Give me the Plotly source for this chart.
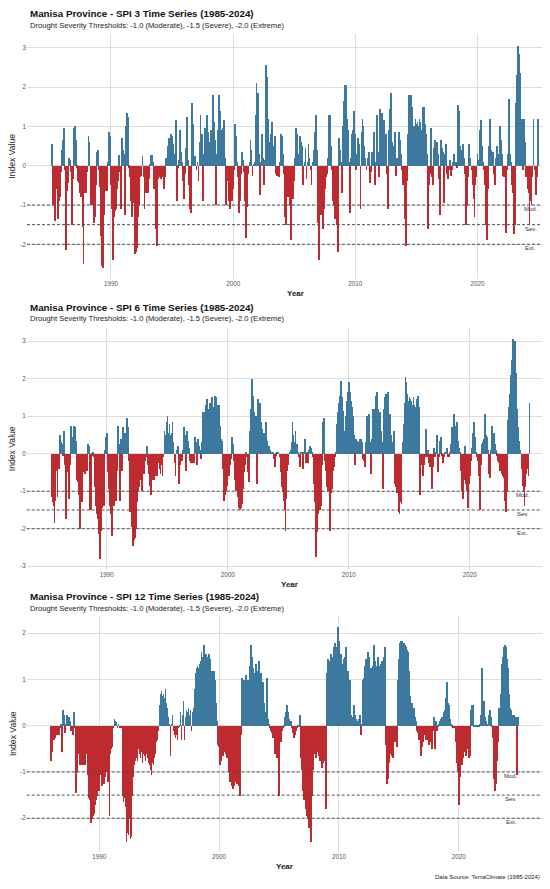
import plotly.graph_objects as go

# ---------------- data (monthly SPI values, Jan..Dec per year) ----------------
years = list(range(1985, 2025))
tick_years = [1990, 2000, 2010, 2020]
thresholds = [-1.0, -1.5, -2.0]
threshold_labels = ["Mod.", "Sev.", "Ext."]

spi3 = [
    [None, None, 0.55, -1.0, -0.95, -1.4, -0.55, -0.6, -1.35, -0.9, -0.8, -0.15],
    [0.4, 0.65, 0.95, -0.1, -2.15, -0.65, -0.45, 0.2, 0.15, -0.15, -1.5, -0.35],
    [0.95, 1.0, 0.65, -0.05, -0.4, -0.45, -0.7, -0.8, -1.55, -2.5, -0.7, -0.7],
    [-0.7, -0.15, 0.75, 0.6, -1.0, -0.4, -1.0, -1.45, -1.3, -0.5, 0.35, 0.4],
    [-0.1, -0.55, -1.8, -2.55, -2.6, -1.25, -0.3, -0.65, -0.65, 0.1, 0.85, 0.75],
    [-0.5, -1.1, -2.4, -1.3, -1.15, -1.1, -0.6, -0.4, 0.28, -0.15, -1.1, 0.7],
    [0.4, 0.3, -1.25, 1.0, 1.35, 1.25, -0.05, -0.3, -0.9, -1.3, -0.9, -0.95],
    [-2.25, -2.2, -2.1, -1.3, -1.0, -0.3, -0.25, 0.25, -0.3, -1.1, -0.7, -0.7],
    [-0.7, -0.35, 0.02, 0.27, 0.27, 0.1, -0.6, -0.5, -1.6, -2.05, -0.35, -0.3],
    [-0.3, -0.35, -0.3, -0.25, -0.6, -0.3, 0.2, 0.05, 0.5, 0.7, 0.7, 0.8],
    [0.75, 0.55, 0.3, 0.1, 1.15, -0.9, -0.05, 0.15, 0.9, 0.35, 0.1, -0.4],
    [-0.85, -0.2, 0.45, 1.25, 0.15, -0.5, -1.1, -1.2, 1.6, 1.05, 0.25, 0.25],
    [-0.1, 0.1, -0.4, 0.6, 1.3, 0.8, -0.9, 0.3, 0.95, 0.6, 1.3, 0.85],
    [0.6, 0.6, 0.9, 0.6, 1.8, 1.1, 0.65, -1.0, 0.3, 0.9, 1.8, 1.4],
    [0.9, 0.8, 0.95, 1.15, 0.2, -1.0, -0.4, -0.35, -0.9, -1.1, -0.7, -0.9],
    [-0.6, -0.1, 1.05, 0.75, 0.1, -0.3, -1.2, -0.9, -0.2, 0.35, 0.15, -0.15],
    [-0.9, -1.85, -1.05, -0.2, 0.1, 0.65, 0.4, -0.25, 0.05, 0.1, 1.3, 2.1],
    [1.85, 0.3, -0.75, 0.1, 0.8, 0.2, -0.5, 0.15, 2.55, 2.25, 1.2, 0.6],
    [0.4, 0.8, 1.1, 0.5, 0.2, 0.75, -0.2, -0.25, -0.2, -0.3, 0.1, 0.8],
    [0.75, 0.3, -0.2, -1.3, -1.5, -0.6, -0.8, -0.7, -1.0, -1.9, -0.85, -0.85],
    [-0.4, 0.2, 0.95, 0.8, 0.3, 0.15, 0.75, 0.6, 0.5, -0.5, 0.1, 0.45],
    [-0.35, 0.1, 0.55, 0.2, -0.1, -0.5, 0.1, 0.4, 0.85, 1.3, 0.4, -1.45],
    [-2.4, -1.1, -1.25, -1.1, -1.6, -1.1, -0.6, -0.3, -0.2, 0.2, 1.3, 1.3],
    [0.5, -0.1, -0.9, -1.0, -1.35, -1.15, -1.5, -2.2, 0.7, 0.4, 0.1, -0.7],
    [1.0, 1.65, 2.05, 2.05, 1.2, 0.9, 0.1, -1.2, 0.2, 0.8, 0.9, 1.4],
    [0.8, -0.1, 0.3, 0.7, 0.55, -1.1, 0.85, 1.2, 1.0, 0.5, 0.2, -0.1],
    [0.2, 0.35, -0.45, -0.15, 0.35, 0.35, 0.85, -0.5, 0.1, 1.3, 0.35, -0.3],
    [1.45, 1.25, 1.35, 0.8, 1.15, 0.45, 0.8, -0.2, -1.1, 0.9, 1.45, 1.85],
    [0.6, 0.5, 0.2, 0.85, -0.25, 0.2, 0.2, 0.85, 0.65, 0.3, -0.1, -0.5],
    [-0.5, -1.35, -2.05, -0.4, 0.8, 1.8, 1.6, 1.8, 1.5, 0.8, 1.0, 1.2],
    [1.05, 1.1, 1.0, 1.2, 1.1, 0.9, 1.5, 1.5, 1.05, 0.8, 0.3, -1.6],
    [-0.5, -0.2, 0.95, -0.3, -0.5, 0.45, 0.65, 0.3, 0.6, 0.3, -0.35, -1.25],
    [0.65, 0.45, 0.35, -0.95, 0.3, 0.55, -0.2, -0.35, -0.1, 0.15, -0.25, -0.1],
    [0.1, 0.3, 0.05, 0.1, -0.05, 1.55, 1.4, 0.5, 0.4, 0.25, 0.55, 0.2],
    [-0.2, -1.5, -1.0, -0.3, 0.55, 0.2, -0.1, -0.5, -0.85, -1.3, -0.5, -0.3],
    [0.3, 0.15, 0.9, 1.15, 0.5, 0.1, -0.1, -0.5, -1.5, -1.9, -0.6, 0.5],
    [1.2, 0.4, 0.2, 0.35, -0.2, -0.5, 0.2, 0.5, 0.3, 0.1, 1.0, 0.65],
    [0.3, -0.25, -0.3, -0.3, -1.7, -0.1, 0.3, 1.7, 0.3, 0.1, -0.5, -0.7],
    [-1.75, -1.5, 1.6, 2.3, 3.05, 2.85, 2.35, 0.85, 1.2, -0.1, 1.2, 0.6],
    [-0.3, -0.6, -0.7, -1.5, -0.9, -1.0, -0.3, 1.2, -0.1, -0.75, -0.3, 1.2],
]

spi6 = [
    [None, None, None, None, None, -1.15, -1.3, -1.4, -1.85, -1.25, -0.45, -1.15],
    [-0.4, 0.5, 0.3, 0.25, -0.05, 0.6, -0.3, -1.75, -0.5, -0.35, -1.2, -0.3],
    [0.75, 0.45, 0.4, 0.75, 0.7, 0.35, -0.7, -0.75, -1.1, -2.0, -0.4, -1.3],
    [-0.5, -0.2, -0.55, -0.25, -0.45, 0.25, 0.2, -1.5, -1.5, -0.05, 0.05, -0.1],
    [-0.9, -1.4, -1.6, -1.75, -2.15, -2.8, -2.05, -1.45, -1.3, -1.4, 0.1, 0.45],
    [0.55, -0.5, -0.95, -1.4, -1.6, -2.2, -1.15, -1.4, -0.55, -1.25, -0.45, 0.75],
    [0.25, -1.25, 0.4, -0.45, 0.7, 0.3, 0.55, 0.1, 0.95, 0.7, -0.2, -1.55],
    [-0.4, -1.95, -2.45, -2.3, -2.25, -2.0, -1.3, -1.0, -0.9, -0.7, -0.55, -1.0],
    [-0.5, -0.55, -0.2, -0.1, 0.2, -0.3, -0.55, -0.85, -1.1, -0.7, -0.5, -0.7],
    [-0.6, -0.35, -0.6, -0.25, -0.4, -0.55, -0.3, -0.6, -0.1, 0.6, 0.5, 0.85],
    [1.0, 0.55, 0.8, 0.5, 0.55, 0.85, 0.3, -0.25, -0.6, 0.1, 0.2, -0.8],
    [-0.3, -0.2, -0.2, 0.1, 0.7, 0.5, -0.45, 0.6, 0.35, 0.15, -0.2, -0.25],
    [-0.2, -0.25, -0.25, 0.45, 0.3, -0.3, 0.4, 0.2, 0.1, -0.15, 0.3, 1.1],
    [0.95, 1.1, 1.3, 1.45, 1.05, 1.2, 1.35, 1.05, 1.5, 1.2, 1.25, 1.55],
    [1.5, 1.3, 1.0, 1.3, 0.75, 0.4, 0.35, -0.4, -1.25, -1.1, -1.0, -0.85],
    [-0.55, -0.6, -0.3, -0.15, 0.45, 0.25, -0.2, -0.7, -1.0, -1.0, -1.15, -1.45],
    [-1.5, -1.45, -1.35, -0.95, -0.5, -0.3, 0.05, -0.1, -0.5, -0.75, 0.6, 1.2],
    [2.0, 1.55, 1.1, 0.5, 1.0, -0.8, 1.45, 1.15, 1.35, 0.85, 0.65, 0.55],
    [0.55, 0.4, 0.85, 0.35, 0.15, 0.2, 0.1, 0.05, 0.02, 0.05, -0.15, -0.35],
    [-0.05, 0.05, 0.02, -0.1, -0.5, -0.9, -1.0, -1.25, -1.5, -2.05, -1.2, -0.45],
    [-0.3, 0.05, 0.1, 0.3, 0.85, 0.5, 0.3, 0.6, 0.25, 0.05, -0.1, -0.35],
    [0.05, 0.05, -0.4, 0.05, 0.4, -0.25, 0.05, -0.25, 0.1, 0.2, 0.15, 0.05],
    [-0.1, -0.8, -1.3, -2.75, -2.1, -1.6, -1.4, -1.5, -1.4, -0.3, 0.85, 0.95],
    [-0.2, -0.45, -0.9, -1.0, -0.65, -2.05, -1.05, -0.95, -0.45, -0.35, -0.1, 0.02],
    [0.8, 1.1, 1.35, 1.55, 1.95, 1.5, 1.15, 0.6, 0.35, 1.0, 1.4, 1.65],
    [1.9, 1.65, 1.4, 1.25, 1.0, 0.5, -0.3, 0.4, 0.35, 0.2, 0.3, 0.4],
    [0.4, 0.3, -0.15, -0.2, -0.35, 0.3, 1.0, 0.6, 1.05, 0.3, -0.55, 0.4],
    [1.2, 1.2, 1.05, 1.55, 1.65, 1.2, 1.05, 1.1, 0.6, 0.3, -0.95, 1.2],
    [1.5, 1.6, 1.45, 1.65, 1.0, 1.05, 0.5, 0.3, 0.1, 0.6, -0.8, -0.9],
    [-1.05, -1.55, -1.6, -1.3, -1.35, 0.3, 0.8, 1.35, 2.05, 1.9, 1.6, 1.4],
    [1.5, 1.45, 1.4, 1.3, 1.5, 1.3, 1.25, 1.45, 1.55, 1.25, -1.1, -0.3],
    [-0.3, -0.6, -0.3, -0.1, 0.65, -0.1, 0.1, -0.25, -0.35, -0.1, -0.95, -0.35],
    [0.15, -0.1, 0.05, 0.5, -0.5, -0.1, 0.35, 0.45, -0.05, -0.25, -0.1, 0.05],
    [0.05, 0.15, -0.1, -0.1, 0.05, 0.25, 0.7, 0.55, 1.05, 0.75, 0.55, 0.85],
    [0.35, 0.15, 0.02, -0.45, -1.0, -1.2, -0.7, 0.2, -0.8, -1.0, -1.45, -0.8],
    [-0.6, -0.2, 0.15, 0.55, 0.85, 0.45, 0.05, -0.1, -0.2, -0.6, -1.5, -0.3],
    [0.25, 0.3, 0.4, 1.05, 0.5, 0.45, 0.1, -0.55, -0.65, 0.1, 0.75, 0.45],
    [0.55, 0.25, 0.1, -0.05, -0.2, -0.25, -0.45, -0.35, -0.55, -0.6, -0.65, -1.25],
    [-1.55, -1.0, 0.9, 1.25, 1.6, 2.1, 2.5, 3.05, 2.4, 3.0, 2.15, 1.2],
    [0.7, 0.35, 0.1, -0.4, -0.85, -1.0, -1.4, -0.9, -0.55, -0.4, -0.6, 1.35],
]

spi12 = [
    [None, None, None, None, None, None, None, None, None, None, None, -0.75],
    [-0.55, -0.25, -0.3, -0.25, -0.2, -0.2, -0.15, -0.2, -0.05, 0.05, -0.55, 0.35],
    [0.25, -0.15, 0.05, 0.25, 0.15, 0.2, 0.1, -0.1, -0.05, -0.2, 0.3, -0.05],
    [-1.45, -1.0, -0.6, -0.55, -0.85, -0.85, -0.85, -0.85, -0.8, -0.85, -0.45, -0.6],
    [-1.05, -1.55, -1.6, -2.1, -2.0, -1.95, -1.9, -1.7, -1.6, -1.5, -1.35, -1.4],
    [-1.05, -1.0, -1.3, -1.2, -1.25, -1.1, -0.95, -1.0, -1.2, -1.1, -1.95, -0.6],
    [-0.5, -0.45, -0.05, 0.15, 0.12, 0.08, -0.05, 0.05, -0.03, -0.02, -0.02, -1.5],
    [-1.65, -1.55, -1.75, -2.5, -2.3, -2.35, -2.0, -2.45, -2.4, -1.5, -1.1, -0.85],
    [-0.75, -0.7, -0.75, -0.5, -0.6, -0.7, -0.55, -0.8, -0.6, -0.65, -0.75, -0.6],
    [-0.7, -0.8, -0.85, -0.95, -1.05, -0.8, -0.85, -0.7, -0.6, -0.35, -0.3, -0.1],
    [0.45, 0.7, 0.75, 0.65, 0.7, 0.6, 0.8, 0.5, 0.4, 0.2, 0.05, -0.65],
    [0.05, 0.25, -0.1, -0.2, -0.25, -0.2, -0.3, -0.05, 0.02, 0.3, -0.3, 0.25],
    [0.55, -0.3, 0.2, 0.35, 0.3, 0.4, 0.25, 0.35, -0.1, 0.3, 0.4, 0.8],
    [1.15, 1.25, 1.3, 1.25, 1.35, 1.4, 1.6, 1.45, 1.5, 1.75, 1.45, 1.55],
    [1.3, 1.5, 1.55, 1.45, 1.2, 1.2, 1.1, 1.2, 1.0, 0.5, 0.1, -0.4],
    [-0.45, -0.85, -0.75, -0.5, -0.65, -0.4, -0.55, -0.6, -0.7, -0.7, -1.0, -1.2],
    [-1.0, -1.3, -1.35, -1.3, -1.2, -1.15, -1.25, -1.2, -1.3, -1.5, -0.2, 1.05],
    [1.0, 1.0, 0.95, 1.1, 1.0, 0.9, 1.0, 1.3, 1.75, 1.5, 1.25, 0.5],
    [1.15, 1.35, 1.2, 1.05, 1.4, 1.0, 1.15, 0.6, 0.95, 0.5, 0.3, 0.2],
    [1.05, 0.15, 0.05, -0.05, -0.1, -0.15, -0.25, -0.2, -0.6, -0.55, -0.7, -0.6],
    [-1.5, -0.3, -0.35, -0.1, -0.05, 0.02, 0.2, 0.3, 0.45, 0.3, 0.15, 0.05],
    [0.1, -0.05, -0.15, -0.25, -0.2, -0.1, -0.05, 0.02, 0.02, 0.25, -0.7, -0.95],
    [-1.4, -1.6, -1.6, -1.8, -1.95, -2.0, -2.2, -2.05, -2.5, -1.5, -0.95, -0.55],
    [-0.6, -0.7, -0.5, -0.55, -0.65, -0.75, -0.55, -0.9, -0.8, -0.5, -0.75, -1.8],
    [1.15, 1.45, 1.4, 1.35, 1.55, 1.5, 1.35, 1.7, 1.8, 1.45, 1.7, 2.15],
    [1.85, 1.55, 1.55, 1.3, 1.35, 1.45, 1.5, 1.7, 1.2, 1.2, 1.0, 1.0],
    [0.25, 0.15, 0.2, 0.45, 0.25, 0.15, 0.1, 0.05, 0.15, 0.25, -0.2, 0.05],
    [1.0, 1.05, 1.3, 1.45, 1.45, 1.6, 1.5, 1.25, 1.05, 1.25, 1.3, 1.75],
    [1.4, 1.25, 1.3, 1.5, 1.3, 1.3, 1.35, 1.4, 1.35, 1.5, 1.7, -0.4],
    [-1.25, -1.15, -0.8, -0.6, -0.55, -0.65, -0.7, -0.3, -0.35, -0.35, -0.45, 1.0],
    [1.45, 1.8, 1.85, 1.85, 1.8, 1.8, 1.75, 1.7, 1.65, 1.6, 1.2, 0.65],
    [0.5, 0.5, 0.3, 0.4, 0.2, 0.1, -0.1, -0.15, -0.3, -0.25, -0.65, -0.45],
    [-0.35, -0.1, -0.2, -0.3, -0.15, -0.3, -0.4, -0.35, -0.2, -0.5, -0.1, 0.2],
    [-0.5, 0.1, -0.1, 0.02, 0.05, 0.1, 0.15, 0.2, 0.15, 0.3, 0.35, 0.6],
    [0.95, 0.5, 0.45, 0.15, 0.05, 0.02, -0.02, -0.05, -0.05, -0.35, -0.8, -1.0],
    [-1.7, -1.1, -0.8, -0.85, -0.7, -0.5, -0.55, -0.65, -0.5, -0.5, -0.7, -0.65],
    [0.35, 0.45, 0.45, 0.02, 0.02, 0.02, 0.02, 0.01, 0.02, 0.05, 0.25, 1.25],
    [0.35, 0.55, 0.2, 0.1, 0.05, 0.05, 0.25, 0.35, 0.2, 0.02, -0.25, -1.15],
    [-1.4, -1.25, -0.75, -0.35, 0.4, 0.35, 0.7, 1.35, 1.5, 1.7, 1.75, 1.7],
    [1.45, 1.25, 0.7, 0.4, 0.35, 0.25, 0.2, 0.25, 0.15, 0.2, -1.05, 0.2],
]

series_names = ["SPI 3", "SPI 6", "SPI 12"]
series_values = [spi3, spi6, spi12]

# ---------------- styling ----------------
# The page body has an 8px margin, so the figure is 8px smaller and all
# reference pixel positions are shifted by 8px.
OFF = 8
W, H = 550 - OFF, 889 - OFF
BLUE = "#3D799E"
RED = "#BD2A2F"
GRID = "#DDDDDD"
FONT = "Liberation Sans, Arial, Helvetica, sans-serif"
BAR_W = 0.85 / 12.0

def px(x):
    return (x - OFF) / W

def py(y):
    return 1 - (y - OFF) / H

# panel geometry (reference pixels) and axis ranges
panels = [
    dict(x0=27, x1=545, ytop=34, ybot=278.9, xr=[1983.13, 2025.52], yr=[-2.88, 3.35],
         yticks=[-2, -1, 0, 1, 2, 3], title_y=14, sub_y=25.7, year_x=295, year_y=294,
         lab_x=2024.35),
    dict(x0=26.7, x1=545, ytop=328.1, ybot=569.6, xr=[1983.39, 2026.22], yr=[-3.09, 3.35],
         yticks=[-3, -2, -1, 0, 1, 2, 3], title_y=307.3, sub_y=318.5, year_x=290, year_y=584.3,
         lab_x=2024.4),
    dict(x0=26.7, x1=541.7, ytop=615.6, ybot=852, xr=[1983.94, 2026.93], yr=[-2.73, 2.38],
         yticks=[-2, -1, 0, 1, 2], title_y=596.7, sub_y=608.3, year_x=284, year_y=866.7,
         lab_x=2024.4),
]

fig = go.Figure()
shapes = []
annotations = []

for i, (name, vals, p) in enumerate(zip(series_names, series_values, panels)):
    xs, ys, cols = [], [], []
    for yi, yr in enumerate(years):
        for mi, v in enumerate(vals[yi]):
            if v is None:
                continue
            xs.append(yr + mi / 12.0)
            ys.append(v)
            cols.append(BLUE if v >= 0 else RED)
    ax = "" if i == 0 else str(i + 1)
    fig.add_trace(go.Bar(
        x=xs, y=ys, width=BAR_W, marker=dict(color=cols, line=dict(width=0)),
        xaxis="x" + ax, yaxis="y" + ax, showlegend=False, hoverinfo="x+y",
    ))
    fig.layout["xaxis" + ax] = dict(
        domain=[px(p["x0"]), px(p["x1"])], range=p["xr"], anchor="y" + ax,
        tickvals=tick_years, ticktext=[str(t) for t in tick_years],
        showgrid=True, gridcolor=GRID, gridwidth=1, zeroline=False, showline=False,
        ticks="", automargin=False,
        tickfont=dict(size=6.3, color="#555555", family=FONT),
    )
    fig.layout["yaxis" + ax] = dict(
        domain=[py(p["ybot"]), py(p["ytop"])], range=p["yr"], anchor="x" + ax,
        tickvals=p["yticks"], ticktext=[str(t) for t in p["yticks"]],
        showgrid=True, gridcolor=GRID, gridwidth=1, zeroline=False, showline=False,
        ticks="", automargin=False,
        tickfont=dict(size=6.3, color="#555555", family=FONT),
    )
    for t, lab in zip(thresholds, threshold_labels):
        shapes.append(dict(type="line", xref="x" + ax + " domain", yref="y" + ax,
                           x0=0, x1=1, y0=t, y1=t,
                           line=dict(color="#505050", width=1, dash="3px,2px")))
        annotations.append(dict(x=p["lab_x"], y=t, xref="x" + ax, yref="y" + ax,
                                text=lab, showarrow=False, yshift=-4,
                                font=dict(size=6, color="#333333", family=FONT)))
    # titles
    annotations.append(dict(x=px(28), y=py(p["title_y"]), xref="paper", yref="paper",
                            xanchor="left", yanchor="middle", showarrow=False,
                            text="<b>Manisa Province - %s Time Series (1985-2024)</b>" % name,
                            font=dict(size=9.8, color="#111111", family=FONT)))
    annotations.append(dict(x=px(28), y=py(p["sub_y"]), xref="paper", yref="paper",
                            xanchor="left", yanchor="middle", showarrow=False,
                            text="Drought Severity Thresholds: -1.0 (Moderate), -1.5 (Severe), -2.0 (Extreme)",
                            font=dict(size=7.6, color="#222222", family=FONT)))
    annotations.append(dict(x=px(12.3), y=py((p["ytop"] + p["ybot"]) / 2), xref="paper", yref="paper",
                            xanchor="center", yanchor="middle", showarrow=False, textangle=-90,
                            text="Index Value", font=dict(size=8.6, color="#222222", family=FONT)))
    annotations.append(dict(x=px(p["year_x"]), y=py(p["year_y"]), xref="paper", yref="paper",
                            xanchor="center", yanchor="middle", showarrow=False,
                            text="<b>Year</b>", font=dict(size=8, color="#222222", family=FONT)))

annotations.append(dict(x=px(541.7), y=py(877.3), xref="paper", yref="paper",
                        xanchor="right", yanchor="middle", showarrow=False,
                        text="Data Source: TerraClimate (1985-2024)",
                        font=dict(size=6, color="#222222", family=FONT)))

fig.update_layout(
    width=W, height=H, margin=dict(l=0, r=0, t=0, b=0, pad=0, autoexpand=False),
    paper_bgcolor="white", plot_bgcolor="white",
    bargap=0, barmode="overlay",
    shapes=shapes, annotations=annotations,
    font=dict(family=FONT),
)

fig.write_html("out.html")
